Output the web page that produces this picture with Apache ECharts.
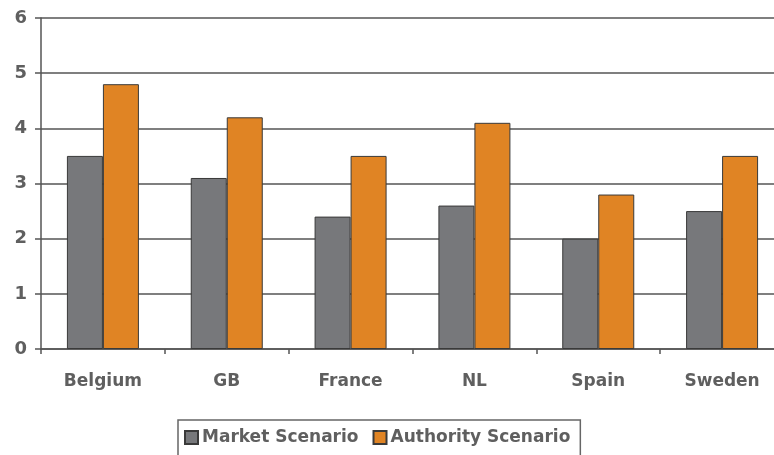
<!DOCTYPE html>
<html lang="en">
<head>
    <meta charset="UTF-8">
    <title>Scenarios</title>
    <script src="https://cdn.jsdelivr.net/npm/echarts@6/dist/echarts.min.js"></script>
    <style>
        body { margin: 0; background: #fff; }
    </style>
</head>
<body>

<div id="bar_wrap" style="width: 774px; height: 455px;"></div>

<script>
    var countries = ["Belgium", "GB", "France", "NL", "Spain", "Sweden"];
    var market = [3.5, 3.1, 2.4, 2.6, 2.0, 2.5];
    var authority = [4.8, 4.2, 3.5, 4.1, 2.8, 3.5];
    var seriesNames = ["Market Scenario", "Authority Scenario"];

    var myBar = echarts.init(document.getElementById("bar_wrap"));

    var labelFont = {
        color: "#5f5f5f",
        fontFamily: "DejaVu Sans",
        fontWeight: "bold",
        fontSize: 17
    };

    var option = {
        animation: false,
        grid: {
            left: 41,
            top: 18,
            width: 743,
            height: 331,
            outerBoundsMode: "none"
        },
        legend: {
            data: seriesNames,
            left: 178,
            top: 420,
            itemWidth: 13,
            itemHeight: 13,
            itemGap: 14,
            padding: [9, 10, 20, 6],
            borderColor: "#666",
            borderWidth: 1.5,
            icon: "rect",
            textStyle: {
                color: "#5f5f5f",
                fontFamily: "DejaVu Sans",
                fontWeight: "bold",
                fontSize: 17,
                padding: [0, 0, 0, -1]
            }
        },
        xAxis: {
            type: "category",
            data: countries,
            axisLine: { lineStyle: { color: "#555", width: 1.5 } },
            axisTick: { show: true, length: 5, lineStyle: { color: "#555", width: 1.5 } },
            axisLabel: Object.assign({ margin: 24 }, labelFont)
        },
        yAxis: {
            type: "value",
            min: 0,
            max: 6,
            interval: 1,
            axisLine: { show: true, lineStyle: { color: "#555", width: 1.5 } },
            axisTick: { show: true, length: 6, lineStyle: { color: "#555", width: 1.5 } },
            axisLabel: Object.assign({ margin: 14 }, labelFont, { fontSize: 18 }),
            splitLine: { lineStyle: { color: "#555", width: 1.5 } }
        },
        series: [
            {
                name: seriesNames[0],
                type: "bar",
                data: market,
                barWidth: 36,
                barGap: "0%",
                itemStyle: { color: "#77787b", borderColor: "#3a3a3a", borderWidth: 1 }
            },
            {
                name: seriesNames[1],
                type: "bar",
                data: authority,
                barWidth: 36,
                barGap: "0%",
                itemStyle: { color: "#e08424", borderColor: "#3a3a3a", borderWidth: 1 }
            }
        ]
    };

    myBar.setOption(option);
</script>
</body>
</html>
